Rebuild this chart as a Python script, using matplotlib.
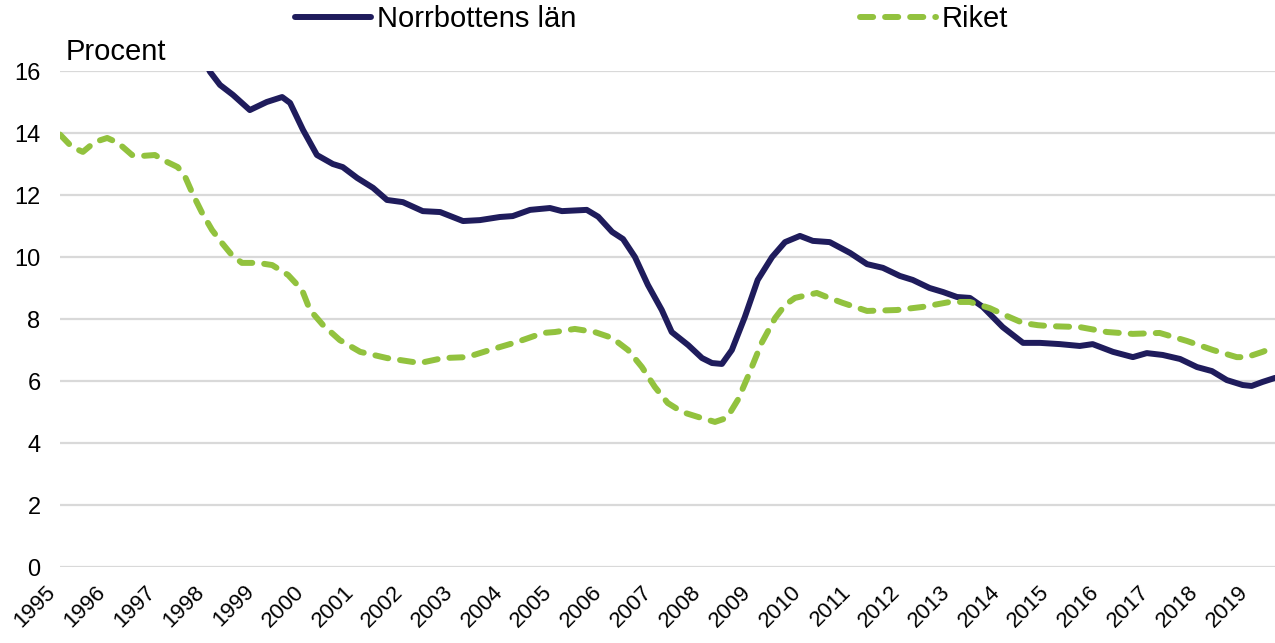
import matplotlib
matplotlib.use('Agg')
import matplotlib.pyplot as plt
import matplotlib.transforms as mtransforms

# Norrbottens län (decimal year, percent)
norr_x = [1997.92, 1998.02, 1998.22, 1998.48, 1998.82, 1999.16, 1999.47, 1999.63, 1999.89,
          2000.17, 2000.49, 2000.69, 2000.98, 2001.30, 2001.58, 2001.90, 2002.30, 2002.65,
          2003.11, 2003.45, 2003.85, 2004.11, 2004.46, 2004.86, 2005.10, 2005.60, 2005.83,
          2006.11, 2006.33, 2006.57, 2006.83, 2007.11, 2007.31, 2007.64, 2007.92, 2008.12,
          2008.32, 2008.52, 2008.78, 2009.04, 2009.33, 2009.59, 2009.89, 2010.15, 2010.49,
          2010.90, 2011.24, 2011.56, 2011.90, 2012.16, 2012.50, 2012.77, 2013.05, 2013.31,
          2013.57, 2013.97, 2014.38, 2014.72, 2015.12, 2015.52, 2015.78, 2016.19, 2016.59,
          2016.87, 2017.19, 2017.54, 2017.88, 2018.18, 2018.48, 2018.80, 2018.98, 2019.20,
          2019.45]
norr_y = [16.3, 15.97, 15.55, 15.23, 14.74, 15.0, 15.16, 14.97, 14.1,
          13.29, 13.0, 12.9, 12.55, 12.23, 11.84, 11.77, 11.48, 11.45,
          11.16, 11.19, 11.29, 11.32, 11.52, 11.58, 11.48, 11.52, 11.3,
          10.81, 10.58, 10.0, 9.1, 8.29, 7.58, 7.16, 6.74, 6.58,
          6.55, 7.0, 8.06, 9.26, 10.0, 10.48, 10.68, 10.52, 10.48,
          10.13, 9.77, 9.65, 9.39, 9.26, 9.0, 8.87, 8.71, 8.68,
          8.39, 7.74, 7.23, 7.23, 7.19, 7.13, 7.19, 6.94, 6.77,
          6.9, 6.84, 6.71, 6.45, 6.32, 6.03, 5.87, 5.84, 5.97,
          6.1]

# Riket
riket_x = [1995.0, 1995.24, 1995.46, 1995.70, 1995.95, 1996.17, 1996.45, 1996.65, 1996.91,
           1997.11, 1997.37, 1997.52, 1997.68, 1997.86, 1998.06, 1998.26, 1998.46, 1998.66,
           1998.98, 1999.27, 1999.59, 1999.87, 2000.03, 2000.29, 2000.63, 2001.04, 2001.58,
           2002.24, 2002.71, 2003.19, 2003.65, 2004.20, 2004.72, 2004.96, 2005.36, 2005.76,
           2006.11, 2006.43, 2006.71, 2006.97, 2007.23, 2007.52, 2007.84, 2008.18, 2008.42,
           2008.64, 2008.84, 2009.12, 2009.39, 2009.59, 2009.79, 2010.23, 2010.43, 2010.75,
           2011.24, 2011.84, 2012.36, 2012.91, 2013.31, 2013.71, 2014.05, 2014.38, 2014.68,
           2014.92, 2015.52, 2016.07, 2016.59, 2017.13, 2017.68, 2018.20, 2018.68, 2018.88,
           2019.20, 2019.45]
riket_y = [13.95, 13.55, 13.39, 13.71, 13.84, 13.68, 13.29, 13.26, 13.29,
           13.1, 12.9, 12.58, 12.0, 11.42, 10.87, 10.45, 10.06, 9.81,
           9.81, 9.74, 9.42, 8.94, 8.29, 7.81, 7.32, 6.94, 6.74,
           6.58, 6.74, 6.77, 7.0, 7.26, 7.55, 7.58, 7.68, 7.58,
           7.39, 7.0, 6.45, 5.81, 5.29, 5.0, 4.84, 4.68, 4.81,
           5.39, 6.13, 7.23, 8.03, 8.45, 8.68, 8.84, 8.71, 8.52,
           8.26, 8.29, 8.39, 8.55, 8.55, 8.35, 8.1, 7.87, 7.8,
           7.77, 7.74, 7.58, 7.52, 7.55, 7.29, 7.0, 6.77, 6.77,
           6.94, 7.1]

years = list(range(1995, 2020))
y_ticks = [0, 2, 4, 6, 8, 10, 12, 14, 16]

NAVY = '#1f1c5c'
GREEN = '#92c23e'

plt.rcParams['font.family'] = ['Liberation Sans', 'DejaVu Sans']

fig = plt.figure(figsize=(12.75, 6.43), dpi=100)
ax = fig.add_axes([60 / 1275, 1 - 567 / 643, 1 - 60 / 1275, (567 - 71) / 643])

ax.plot(norr_x, norr_y, color=NAVY, lw=4.3, solid_joinstyle='round',
        solid_capstyle='round', label='Norrbottens län')
ax.plot(riket_x, riket_y, color=GREEN, lw=4.3, dashes=(2.2, 2.0),
        dash_capstyle='round', dash_joinstyle='round', label='Riket')

ax.set_ylim(0, 16)
ax.set_xlim(1995, 2019.45)
ax.set_yticks(y_ticks)
ax.set_xticks(years)
ax.set_xticklabels([str(y) for y in years], rotation=45, ha='right',
                   rotation_mode='anchor', fontsize=16)
ax.tick_params(axis='y', length=0, pad=14, labelsize=17)
ax.tick_params(axis='x', length=0, pad=6)
ax.grid(axis='y', color='#d9d9d9', lw=1.6)
ax.set_axisbelow(True)
for s in ax.spines.values():
    s.set_visible(False)

# nudge the slanted year labels to where the reference has them
shift = mtransforms.ScaledTranslation(-15 / 100, -6 / 100, fig.dpi_scale_trans)
for lab in ax.get_xticklabels():
    lab.set_transform(lab.get_transform() + shift)

fig.text(66 / 1275, 1 - 60 / 643, 'Procent', fontsize=21, va='baseline', ha='left')

fig.legend(loc='center left', bbox_to_anchor=(295 / 1275, 1 - 19 / 643), ncol=2,
           frameon=False, fontsize=21, handlelength=2.6, handletextpad=0.2,
           columnspacing=9.75, borderpad=0, borderaxespad=0)

fig.savefig('out.png', dpi=100)
plt.close(fig)
